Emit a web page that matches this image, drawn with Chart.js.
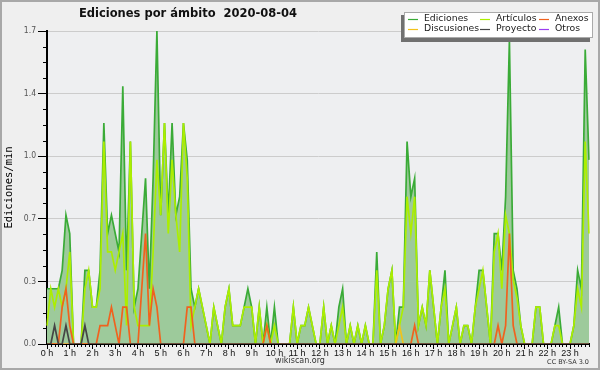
<!DOCTYPE html>
<html>
<head>
<meta charset="utf-8">
<script src="https://cdn.jsdelivr.net/npm/chart.js@4.4.1/dist/chart.umd.min.js"></script>
<style>
  html, body { margin: 0; padding: 0; background: #efefef; }
  #wrap { position: relative; width: 600px; height: 370px; }
</style>
</head>
<body>
<div id="wrap"><canvas id="chart"></canvas></div>
<script>
// tick labels, one per hour
const hourLabels = ['0 h','1 h','2 h','3 h','4 h','5 h','6 h','7 h','8 h','9 h','10 h','11 h',
                    '12 h','13 h','14 h','15 h','16 h','17 h','18 h','19 h','20 h','21 h','22 h','23 h'];

// categories: 10 minute slots of the day
const slots = [];
for (let h = 0; h < 24; h++) {
  for (let m = 0; m < 60; m += 10) slots.push(h + ':' + String(m).padStart(2, '0'));
}

// edits per minute, 12 slots (2 hours) per line
const ediciones = [
  0.3,0.3,0.3,0.3,0.4,0.7, 0.6,0,0,0,0.4,0.4,
  0.2,0.2,0.4,1.2,0.6,0.7, 0.6,0.5,1.4,0.4,1.1,0.2,
  0.3,0.6,0.9,0.3,0.9,1.7, 0.7,1.2,0.7,1.2,0.7,0.8,
  1.2,1.0,0.3,0.2,0.3,0.2, 0.1,0,0.2,0.1,0,0.2,
  0.3,0.1,0.1,0.1,0.2,0.3, 0.2,0,0.2,0,0.2,0,
  0.2,0,0,0,0,0.2, 0,0.1,0.1,0.2,0.1,0,
  0,0.2,0,0.1,0,0.2, 0.3,0,0.1,0,0.1,0,
  0.1,0,0,0.5,0,0.1, 0.3,0.4,0,0.2,0.2,1.1,
  0.8,0.9,0.1,0.2,0.1,0.4, 0.2,0,0.2,0.4,0,0.1,
  0.2,0,0.1,0.1,0,0.2, 0.4,0.4,0.2,0,0.6,0.6,
  0.4,0.8,1.65,0.4,0.3,0.1, 0,0,0,0.2,0.2,0,
  0,0,0.1,0.2,0,0, 0,0.1,0.4,0.3,1.6,1.0
];
const articulos = [
  0.1,0.3,0.2,0.3,0.2,0.3, 0.5,0,0,0,0.3,0.4,
  0.2,0.2,0.3,1.1,0.5,0.5, 0.4,0.5,0.6,0.1,1.1,0.2,
  0.1,0.1,0.1,0.1,0.5,1.0, 0.7,1.2,0.6,1.0,0.7,0.5,
  1.2,0.9,0.1,0.2,0.3,0.2, 0.1,0,0.2,0.1,0,0.2,
  0.3,0.1,0.1,0.1,0.2,0.2, 0.2,0,0.2,0,0.1,0,
  0.1,0,0,0,0,0.2, 0,0.1,0.1,0.2,0.1,0,
  0,0.2,0,0.1,0,0.1, 0.2,0,0.1,0,0.1,0,
  0.1,0,0,0.4,0,0.1, 0.3,0.4,0,0.1,0.2,0.8,
  0.6,0.8,0.1,0.2,0.1,0.4, 0.2,0,0.2,0.3,0,0.1,
  0.2,0,0.1,0.1,0,0.2, 0.3,0.4,0.2,0,0.5,0.6,
  0.3,0.7,0.6,0.35,0.25,0.1, 0,0,0,0.2,0.2,0,
  0,0,0.1,0.1,0,0, 0,0.1,0.3,0.2,1.1,0.6
];
const anexos = [
  0,0,0,0,0.2,0.3, 0.1,0,0,0,0,0,
  0,0,0.1,0.1,0.1,0.2, 0.1,0,0.2,0.2,0,0,
  0,0.3,0.6,0.1,0.3,0.2, 0,0,0,0,0,0,
  0,0.2,0.2,0,0,0, 0,0,0,0,0,0,
  0,0,0,0,0,0, 0,0,0,0,0.1,0,
  0,0,0,0,0,0, 0,0,0,0,0,0,
  0,0,0,0,0,0, 0,0,0,0,0,0,
  0,0,0,0,0,0, 0,0,0,0,0,0,
  0,0.1,0,0,0,0, 0,0,0,0,0,0,
  0,0,0,0,0,0, 0,0,0,0,0,0.1,
  0,0.1,0.6,0.1,0,0, 0,0,0,0,0,0,
  0,0,0,0,0,0, 0,0,0,0,0,0
];
const discusiones = [
  0,0,0,0,0,0, 0,0,0,0,0,0,
  0,0,0,0,0,0, 0,0,0,0,0,0,
  0,0,0,0,0,0, 0,0,0,0,0,0,
  0,0,0,0,0,0, 0,0,0,0,0,0,
  0,0,0,0,0,0, 0,0,0,0,0,0,
  0,0,0,0,0,0, 0,0,0,0,0,0,
  0,0,0,0,0,0, 0,0,0,0,0,0,
  0,0,0,0,0,0, 0,0,0,0.1,0,0,
  0,0,0,0,0,0, 0,0,0,0,0,0,
  0,0,0,0,0,0, 0,0,0,0,0,0,
  0,0,0,0,0,0, 0,0,0,0,0,0,
  0,0,0,0,0,0, 0,0,0,0,0,0
];
const proyecto = [
  0,0,0.1,0,0,0.1, 0,0,0,0,0.1,0,
  0,0,0,0,0,0, 0,0,0,0,0,0,
  0,0,0,0,0,0, 0,0,0,0,0,0,
  0,0,0,0,0,0, 0,0,0,0,0,0,
  0,0,0,0,0,0, 0,0,0,0,0,0,
  0,0,0,0,0,0, 0,0,0,0,0,0,
  0,0,0,0,0,0, 0,0,0,0,0,0,
  0,0,0,0,0,0, 0,0,0,0,0,0,
  0,0,0,0,0,0, 0,0,0,0,0,0,
  0,0,0,0,0,0, 0,0,0,0,0,0,
  0,0,0,0,0,0, 0,0,0,0,0,0,
  0,0,0,0,0,0, 0,0,0,0,0,0
];
const otros = [
  0,0,0,0,0,0, 0,0,0,0,0,0,
  0,0,0,0,0,0, 0,0,0,0,0,0,
  0,0,0,0,0,0, 0,0,0,0,0,0,
  0,0,0,0,0,0, 0,0,0,0,0,0,
  0,0,0,0,0,0, 0,0,0,0,0,0,
  0,0,0,0,0,0, 0,0,0,0,0,0,
  0,0,0,0,0,0, 0,0,0,0,0,0,
  0,0,0,0,0,0, 0,0,0,0,0,0,
  0,0,0,0,0,0, 0,0,0,0,0,0,
  0,0,0,0,0,0, 0,0,0,0,0,0,
  0,0,0,0,0,0, 0,0,0,0,0,0,
  0,0,0,0,0,0, 0,0,0,0,0,0
];

const yStep = 0.085;   // minor step, labels every 4th

function line(label, data, color, order, extra) {
  return Object.assign({
    label: label, data: data, borderColor: color, backgroundColor: color,
    borderWidth: 1.7, pointRadius: 0, tension: 0, fill: false, order: order
  }, extra || {});
}

const decor = {
  id: 'decor',
  beforeDraw(chart) {
    const ctx = chart.ctx, a = chart.chartArea;
    ctx.save();
    ctx.fillStyle = '#efefef';
    ctx.fillRect(0, 0, chart.width, chart.height);
    ctx.fillStyle = '#eeeff1';
    ctx.fillRect(a.left, a.top, a.right - a.left, a.bottom - a.top);
    ctx.restore();
  },
  afterDraw(chart) {
    const ctx = chart.ctx, x = chart.scales.x, y = chart.scales.y;
    ctx.save();
    // minor ticks
    ctx.strokeStyle = '#000';
    ctx.lineWidth = 1;
    ctx.beginPath();
    for (let i = 0; i < slots.length; i++) {
      if (i % 6 === 0) continue;
      const px = Math.round(x.getPixelForValue(i)) + 0.5;
      ctx.moveTo(px, x.top);
      ctx.lineTo(px, x.top + 3);
    }
    y.ticks.forEach((t, i) => {
      if (i % 4 === 0) return;
      const py = Math.round(y.getPixelForValue(t.value)) + 0.5;
      ctx.moveTo(y.right - 4, py);
      ctx.lineTo(y.right, py);
    });
    ctx.stroke();

    // title
    ctx.fillStyle = '#111';
    ctx.textAlign = 'center';
    ctx.textBaseline = 'middle';
    ctx.font = "bold 11.5px 'DejaVu Sans'";
    ctx.fillText('Ediciones por ámbito  2020-08-04', 188, 14);

    // footer
    ctx.fillStyle = '#333';
    ctx.font = "8px 'DejaVu Sans'";
    ctx.fillText('wikiscan.org', 300, 361);
    ctx.textAlign = 'right';
    ctx.font = "6.5px 'DejaVu Sans'";
    ctx.fillText('CC BY-SA 3.0', 589, 362);

    // legend box
    ctx.fillStyle = '#707070';
    ctx.fillRect(401, 15, 189, 27);
    ctx.fillStyle = '#fff';
    ctx.fillRect(404, 12, 189, 26);
    ctx.strokeStyle = '#aaa';
    ctx.strokeRect(404.5, 12.5, 188, 25);
    const colX = [408, 480, 539], textX = [424, 496, 555], rowY = [19, 29];
    ctx.textAlign = 'left';
    ctx.font = "9.3px 'DejaVu Sans'";
    chart.data.datasets.forEach((ds, i) => {
      const c = i % 3, r = Math.floor(i / 3);
      ctx.strokeStyle = ds.borderColor;
      ctx.lineWidth = 1.2;
      ctx.beginPath();
      ctx.moveTo(colX[c], rowY[r] + 0.5);
      ctx.lineTo(colX[c] + 10, rowY[r] + 0.5);
      ctx.stroke();
      ctx.fillStyle = '#1a1a1a';
      ctx.fillText(ds.label, textX[c], rowY[r]);
    });

    // frame
    ctx.strokeStyle = '#a8a8a8';
    ctx.lineWidth = 2;
    ctx.strokeRect(1, 1, chart.width - 2, chart.height - 2);
    ctx.restore();
  }
};

new Chart(document.getElementById('chart'), {
  type: 'line',
  data: {
    labels: slots,
    datasets: [
      line('Ediciones', ediciones, '#3aab37', 6, { fill: 'origin', backgroundColor: '#9dca9b' }),
      line('Artículos', articulos, '#acee00', 5),
      line('Anexos', anexos, '#f0621e', 2),
      line('Discusiones', discusiones, '#f2c21a', 3),
      line('Proyecto', proyecto, '#454545', 1),
      line('Otros', otros, '#9b3df0', 4)
    ]
  },
  options: {
    responsive: true,
    maintainAspectRatio: false,
    devicePixelRatio: 1,
    animation: false,
    events: [],
    layout: { padding: { top: 31, right: 11, left: 0, bottom: 0 } },
    plugins: {
      legend: { display: false },
      title: { display: false },
      tooltip: { enabled: false }
    },
    scales: {
      x: {
        type: 'category',
        offset: false,
        z: 1,
        afterFit: s => { s.height = 26; },
        border: { display: true, color: '#000', width: 2 },
        grid: {
          drawOnChartArea: false,
          drawTicks: true,
          tickLength: 5,
          tickColor: c => c.index % 6 === 0 ? '#000' : 'rgba(0,0,0,0)'
        },
        ticks: {
          autoSkip: false,
          maxRotation: 0,
          minRotation: 0,
          padding: -1,
          color: '#111',
          font: { family: "'Liberation Sans', Arial, sans-serif", size: 9 },
          callback: (v, i) => i % 6 === 0 ? hourLabels[i / 6] : ''
        }
      },
      y: {
        min: 0,
        max: 1.7,
        afterFit: s => { s.width = 47; },
        border: { display: true, color: '#000', width: 2 },
        grid: {
          color: c => c.index % 4 === 0 ? '#cccccc' : 'rgba(0,0,0,0)',
          tickColor: c => c.index % 4 === 0 ? '#000' : 'rgba(0,0,0,0)',
          tickLength: 9,
          lineWidth: 1
        },
        ticks: {
          stepSize: yStep,
          maxTicksLimit: 25,
          padding: 2,
          color: '#555',
          font: { family: "'Liberation Sans Narrow', 'DejaVu Sans Condensed', sans-serif", size: 8.5 },
          callback: (v, i) => i % 4 === 0 ? v.toFixed(1) : ''
        },
        title: {
          display: true,
          text: 'Ediciones/min',
          color: '#000',
          font: { family: "'DejaVu Sans Mono', monospace", size: 10.5 },
          padding: { top: 3, bottom: 0 }
        }
      }
    }
  },
  plugins: [decor]
});
</script>
</body>
</html>
